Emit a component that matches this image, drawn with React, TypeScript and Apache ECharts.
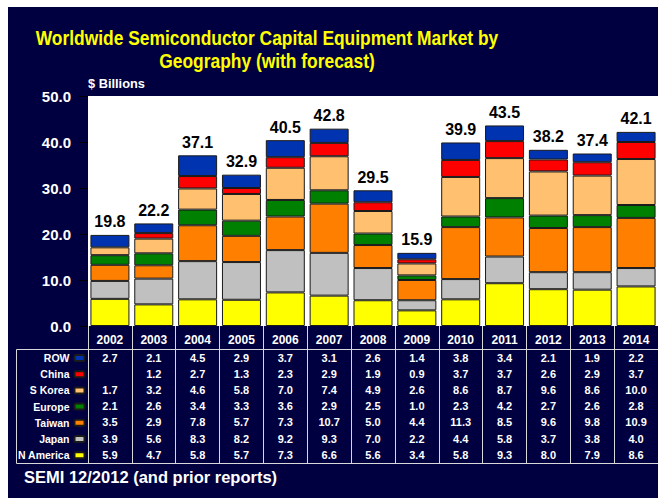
import React, { useEffect, useRef } from "react";
import * as echarts from "echarts";

const years = ["2002", "2003", "2004", "2005", "2006", "2007", "2008", "2009", "2010", "2011", "2012", "2013", "2014"];
const nAmerica = [5.9, 4.7, 5.8, 5.7, 7.3, 6.6, 5.6, 3.4, 5.8, 9.3, 8.0, 7.9, 8.6];
const japan = [3.9, 5.6, 8.3, 8.2, 9.2, 9.3, 7.0, 2.2, 4.4, 5.8, 3.7, 3.8, 4.0];
const taiwan = [3.5, 2.9, 7.8, 5.7, 7.3, 10.7, 5.0, 4.4, 11.3, 8.5, 9.6, 9.8, 10.9];
const europe = [2.1, 2.6, 3.4, 3.3, 3.6, 2.9, 2.5, 1.0, 2.3, 4.2, 2.7, 2.6, 2.8];
const sKorea = [1.7, 3.2, 4.6, 5.8, 7.0, 7.4, 4.9, 2.6, 8.6, 8.7, 9.6, 8.6, 10.0];
const china: (number | null)[] = [null, 1.2, 2.7, 1.3, 2.3, 2.9, 1.9, 0.9, 3.7, 3.7, 2.6, 2.9, 3.7];
const rowOther = [2.7, 2.1, 4.5, 2.9, 3.7, 3.1, 2.6, 1.4, 3.8, 3.4, 2.1, 1.9, 2.2];
const totals = [19.8, 22.2, 37.1, 32.9, 40.5, 42.8, 29.5, 15.9, 39.9, 43.5, 38.2, 37.4, 42.1];

const FONT = "'Liberation Sans', Arial, sans-serif";
const NAVY = "#000040";

// bottom to top
const regions = [
  { name: "N America", data: nAmerica, color: "#FFFF00" },
  { name: "Japan", data: japan, color: "#C0C0C0" },
  { name: "Taiwan", data: taiwan, color: "#FF8000" },
  { name: "Europe", data: europe, color: "#008000" },
  { name: "S Korea", data: sKorea, color: "#FFC170" },
  { name: "China", data: china, color: "#FF0000" },
  { name: "ROW", data: rowOther, color: "#0033B0" },
];

export default function App() {
  const ref = useRef<HTMLDivElement>(null);
  useEffect(() => {
    if (!ref.current) return;
    const chart = echarts.init(ref.current, undefined, { renderer: "svg" });
    const tableRows = [...regions].reverse();
    const rowAxes = tableRows.map((r, i) => ({
      type: "category",
      data: years,
      position: "bottom",
      offset: 26 + i * 16.2,
      axisLine: { show: false },
      axisTick: { show: false },
      axisLabel: {
        interval: 0,
        margin: 0,
        color: "#fff",
        fontWeight: "bold",
        fontSize: 11,
        fontFamily: FONT,
        formatter: (_v: string, idx: number) => {
          const val = r.data[idx];
          return val == null ? "" : val.toFixed(1);
        },
      },
    }));
    chart.setOption({
      animation: false,
      backgroundColor: NAVY,
      legend: {
        orient: "vertical",
        right: 572.5,
        top: 344.5,
        padding: 0,
        align: "right",
        itemGap: 3.2,
        itemWidth: 10,
        itemHeight: 6,
        selectedMode: false,
        data: tableRows.map((r) => r.name),
        textStyle: { color: "#fff", fontWeight: "bold", fontSize: 10.5, lineHeight: 13, fontFamily: FONT },
      },
      grid: {
        left: 80,
        top: 89,
        width: 570,
        height: 230,
        show: true,
        backgroundColor: "#fff",
        borderWidth: 0,
      },
      xAxis: [
        {
          type: "category",
          data: years,
          position: "bottom",
          axisLine: { show: false },
          axisTick: { show: true, interval: 0, length: 137, lineStyle: { color: "#d8d8d8", width: 1 } },
          axisLabel: { interval: 0, margin: 8, color: "#fff", fontWeight: "bold", fontSize: 12, fontFamily: FONT },
        },
        ...rowAxes,
      ],
      yAxis: {
        type: "value",
        min: 0,
        max: 50,
        interval: 10,
        axisLine: { show: false },
        axisTick: { show: true, length: 9, lineStyle: { color: "#000" } },
        splitLine: { show: false },
        axisLabel: {
          margin: 17,
          color: "#fff",
          fontWeight: "bold",
          fontSize: 15,
          fontFamily: FONT,
          formatter: (v: number) => v.toFixed(1),
        },
      },
      series: regions.map((r, i) => ({
        name: r.name,
        type: "bar",
        stack: "total",
        xAxisIndex: 0,
        barWidth: 39,
        data: r.data,
        itemStyle: { color: r.color, borderColor: "#1a1a1a", borderWidth: 1 },
        label:
          i === regions.length - 1
            ? {
                show: true,
                position: "top",
                distance: 5,
                color: "#000",
                fontWeight: "bold",
                fontSize: 16,
                fontFamily: FONT,
                formatter: (p: any) => totals[p.dataIndex].toFixed(1),
              }
            : { show: false },
      })),
      graphic: [
        {
          type: "text",
          x: 259,
          y: 20,
          scaleX: 0.87,
          style: {
            text: "Worldwide Semiconductor Capital Equipment Market by\nGeography (with forecast)",
            fill: "#FFFF00",
            font: "bold 20px " + FONT,
            lineHeight: 23,
            align: "center",
            verticalAlign: "top",
          },
        },
        {
          type: "text",
          left: 80,
          top: 70,
          style: { text: "$ Billions", fill: "#fff", font: "bold 12.8px " + FONT },
        },
        {
          type: "text",
          left: 16,
          top: 461,
          style: { text: "SEMI 12/2012 (and prior reports)", fill: "#fff", font: "bold 16.5px " + FONT },
        },
        { type: "line", shape: { x1: 8.5, y1: 342.5, x2: 650, y2: 342.5 }, style: { stroke: "#d8d8d8", lineWidth: 1 } },
        { type: "line", shape: { x1: 8.5, y1: 456.5, x2: 650, y2: 456.5 }, style: { stroke: "#d8d8d8", lineWidth: 1 } },
        { type: "line", shape: { x1: 8.5, y1: 342.5, x2: 8.5, y2: 456.5 }, style: { stroke: "#d8d8d8", lineWidth: 1 } },
      ],
    });
    return () => chart.dispose();
  }, []);
  return (
    <div
      ref={ref}
      style={{ position: "absolute", left: 8, top: 7, width: 650, height: 491 }}
    />
  );
}
